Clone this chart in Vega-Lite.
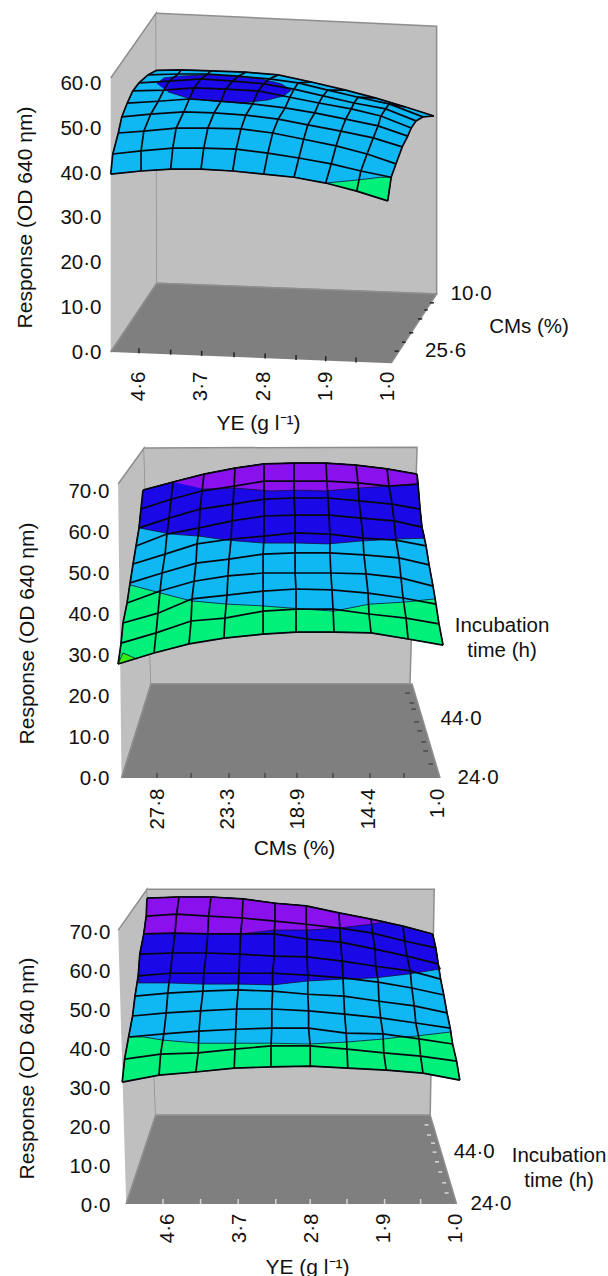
{"$schema":"https://vega.github.io/schema/vega-lite/v6.json","padding":{"left":14,"top":10,"right":0,"bottom":0},"bounds":"flush","spacing":80,"background":"white","config":{"view":{"stroke":null},"font":"Liberation Sans","axis":{"domain":false,"ticks":false,"grid":false,"labelFont":"Liberation Sans","titleFont":"Liberation Sans","labelFontSize":20.5,"titleFontSize":21,"titleFontWeight":"normal","labelColor":"#111","titleColor":"#111","labelOverlap":false,"labelFlush":false}},
"datasets":{
"p1walls":[{"part":"left","YE":5.01,"Response":61.3},{"part":"left","YE":4.35,"Response":75.8},{"part":"left","YE":4.34,"Response":15.4},{"part":"left","YE":5.01,"Response":0},{"part":"back","YE":4.35,"Response":75.8},{"part":"back","YE":0.28,"Response":72.9},{"part":"back","YE":0.28,"Response":13.0},{"part":"back","YE":4.34,"Response":15.4},{"part":"floor","YE":5.01,"Response":0},{"part":"floor","YE":4.34,"Response":15.4},{"part":"floor","YE":0.28,"Response":13.0},{"part":"floor","YE":0.94,"Response":-2.5}],
"p1bands":[{"band":"b","YE":5.01,"Response":39.8},{"band":"b","YE":4.57,"Response":40.5},{"band":"b","YE":4.14,"Response":40.9},{"band":"b","YE":3.70,"Response":40.9},{"band":"b","YE":3.24,"Response":40.5},{"band":"b","YE":2.79,"Response":39.8},{"band":"b","YE":2.35,"Response":39.1},{"band":"b","YE":1.89,"Response":37.8},{"band":"b","YE":1.44,"Response":36.0},{"band":"b","YE":0.99,"Response":33.8},{"band":"b","YE":0.94,"Response":39.1},{"band":"b","YE":0.87,"Response":42.1},{"band":"b","YE":0.78,"Response":45.9},{"band":"b","YE":0.70,"Response":48.3},{"band":"b","YE":0.65,"Response":50.1},{"band":"b","YE":0.58,"Response":51.7},{"band":"b","YE":0.48,"Response":52.6},{"band":"b","YE":0.32,"Response":52.8},{"band":"b","YE":0.73,"Response":54.8},{"band":"b","YE":1.16,"Response":56.8},{"band":"b","YE":1.60,"Response":58.6},{"band":"b","YE":2.10,"Response":60.4},{"band":"b","YE":2.58,"Response":62.0},{"band":"b","YE":3.05,"Response":62.6},{"band":"b","YE":3.56,"Response":62.9},{"band":"b","YE":3.99,"Response":63.1},{"band":"b","YE":4.35,"Response":63.0},{"band":"b","YE":4.47,"Response":62.0},{"band":"b","YE":4.60,"Response":60.2},{"band":"b","YE":4.69,"Response":58.4},{"band":"b","YE":4.77,"Response":55.7},{"band":"b","YE":4.85,"Response":52.6},{"band":"b","YE":4.90,"Response":49.0},{"band":"b","YE":4.98,"Response":44.3},
{"band":"c","YE":4.34,"Response":60.0},{"band":"c","YE":4.24,"Response":61.3},{"band":"c","YE":4.03,"Response":61.7},{"band":"c","YE":3.60,"Response":62.0},{"band":"c","YE":3.22,"Response":61.7},{"band":"c","YE":2.83,"Response":61.1},{"band":"c","YE":2.54,"Response":60.0},{"band":"c","YE":2.39,"Response":58.6},{"band":"c","YE":2.50,"Response":57.3},{"band":"c","YE":2.73,"Response":56.4},{"band":"c","YE":3.12,"Response":55.7},{"band":"c","YE":3.51,"Response":56.1},{"band":"c","YE":3.89,"Response":56.8},{"band":"c","YE":4.18,"Response":58.2},
{"band":"a","YE":1.89,"Response":37.8},{"band":"a","YE":1.42,"Response":38.5},{"band":"a","YE":1.09,"Response":39.1},{"band":"a","YE":0.94,"Response":39.1},{"band":"a","YE":0.99,"Response":33.8},{"band":"a","YE":1.44,"Response":36.0}],
"p1grid":[{"r":0,"c":0,"YE":5.01,"Response":39.8},{"r":0,"c":1,"YE":4.57,"Response":40.5},{"r":0,"c":2,"YE":4.14,"Response":40.9},{"r":0,"c":3,"YE":3.70,"Response":40.9},{"r":0,"c":4,"YE":3.24,"Response":40.5},{"r":0,"c":5,"YE":2.79,"Response":39.8},{"r":0,"c":6,"YE":2.35,"Response":39.1},{"r":0,"c":7,"YE":1.89,"Response":37.8},{"r":0,"c":8,"YE":1.44,"Response":36.0},{"r":0,"c":9,"YE":0.99,"Response":33.8},
{"r":1,"c":0,"YE":4.98,"Response":44.3},{"r":1,"c":1,"YE":4.57,"Response":45.0},{"r":1,"c":2,"YE":4.11,"Response":45.6},{"r":1,"c":3,"YE":3.66,"Response":45.6},{"r":1,"c":4,"YE":3.19,"Response":45.4},{"r":1,"c":5,"YE":2.73,"Response":44.5},{"r":1,"c":6,"YE":2.28,"Response":43.4},{"r":1,"c":7,"YE":1.81,"Response":42.1},{"r":1,"c":8,"YE":1.38,"Response":40.5},{"r":1,"c":9,"YE":0.94,"Response":39.1},
{"r":2,"c":0,"YE":4.90,"Response":49.0},{"r":2,"c":1,"YE":4.53,"Response":49.4},{"r":2,"c":2,"YE":4.06,"Response":50.1},{"r":2,"c":3,"YE":3.60,"Response":50.1},{"r":2,"c":4,"YE":3.12,"Response":49.9},{"r":2,"c":5,"YE":2.66,"Response":49.0},{"r":2,"c":6,"YE":2.21,"Response":47.6},{"r":2,"c":7,"YE":1.74,"Response":46.1},{"r":2,"c":8,"YE":1.29,"Response":44.3},{"r":2,"c":9,"YE":0.87,"Response":42.1},
{"r":3,"c":0,"YE":4.85,"Response":52.6},{"r":3,"c":1,"YE":4.43,"Response":53.2},{"r":3,"c":2,"YE":3.95,"Response":53.7},{"r":3,"c":3,"YE":3.51,"Response":53.5},{"r":3,"c":4,"YE":3.05,"Response":53.0},{"r":3,"c":5,"YE":2.58,"Response":52.1},{"r":3,"c":6,"YE":2.15,"Response":50.8},{"r":3,"c":7,"YE":1.67,"Response":49.4},{"r":3,"c":8,"YE":1.20,"Response":47.9},{"r":3,"c":9,"YE":0.78,"Response":45.9},
{"r":4,"c":0,"YE":4.77,"Response":55.7},{"r":4,"c":1,"YE":4.32,"Response":56.1},{"r":4,"c":2,"YE":3.87,"Response":56.6},{"r":4,"c":3,"YE":3.41,"Response":56.1},{"r":4,"c":4,"YE":2.95,"Response":55.5},{"r":4,"c":5,"YE":2.48,"Response":54.6},{"r":4,"c":6,"YE":2.05,"Response":53.5},{"r":4,"c":7,"YE":1.60,"Response":52.1},{"r":4,"c":8,"YE":1.13,"Response":50.6},{"r":4,"c":9,"YE":0.70,"Response":48.3},
{"r":5,"c":0,"YE":4.69,"Response":58.4},{"r":5,"c":1,"YE":4.24,"Response":58.6},{"r":5,"c":2,"YE":3.80,"Response":59.1},{"r":5,"c":3,"YE":3.34,"Response":58.8},{"r":5,"c":4,"YE":2.87,"Response":58.4},{"r":5,"c":5,"YE":2.41,"Response":57.0},{"r":5,"c":6,"YE":1.99,"Response":55.7},{"r":5,"c":7,"YE":1.52,"Response":54.4},{"r":5,"c":8,"YE":1.09,"Response":52.8},{"r":5,"c":9,"YE":0.65,"Response":50.1},
{"r":6,"c":0,"YE":4.60,"Response":60.2},{"r":6,"c":1,"YE":4.16,"Response":60.6},{"r":6,"c":2,"YE":3.70,"Response":61.1},{"r":6,"c":3,"YE":3.24,"Response":60.6},{"r":6,"c":4,"YE":2.79,"Response":60.0},{"r":6,"c":5,"YE":2.35,"Response":58.8},{"r":6,"c":6,"YE":1.93,"Response":57.3},{"r":6,"c":7,"YE":1.48,"Response":55.7},{"r":6,"c":8,"YE":1.02,"Response":54.4},{"r":6,"c":9,"YE":0.58,"Response":51.7},
{"r":7,"c":0,"YE":4.47,"Response":62.0},{"r":7,"c":1,"YE":4.03,"Response":62.2},{"r":7,"c":2,"YE":3.60,"Response":62.2},{"r":7,"c":3,"YE":3.16,"Response":61.7},{"r":7,"c":4,"YE":2.71,"Response":61.1},{"r":7,"c":5,"YE":2.29,"Response":60.2},{"r":7,"c":6,"YE":1.86,"Response":58.6},{"r":7,"c":7,"YE":1.42,"Response":57.0},{"r":7,"c":8,"YE":0.97,"Response":55.5},{"r":7,"c":9,"YE":0.48,"Response":52.6},
{"r":8,"c":0,"YE":4.35,"Response":63.0},{"r":8,"c":1,"YE":3.99,"Response":63.1},{"r":8,"c":2,"YE":3.56,"Response":62.9},{"r":8,"c":3,"YE":3.05,"Response":62.6},{"r":8,"c":4,"YE":2.58,"Response":62.0},{"r":8,"c":5,"YE":2.10,"Response":60.4},{"r":8,"c":6,"YE":1.60,"Response":58.6},{"r":8,"c":7,"YE":1.16,"Response":56.8},{"r":8,"c":8,"YE":0.73,"Response":54.8},{"r":8,"c":9,"YE":0.32,"Response":52.8}],
"p1ticks":[{"YE":4.60,"YE2":4.60,"Response":-0.27,"Response2":0.85},{"YE":4.14,"YE2":4.14,"Response":-0.58,"Response2":0.54},{"YE":3.69,"YE2":3.69,"Response":-0.87,"Response2":0.25},{"YE":3.22,"YE2":3.22,"Response":-1.18,"Response2":-0.06},{"YE":2.77,"YE2":2.77,"Response":-1.48,"Response2":-0.36},{"YE":2.32,"YE2":2.32,"Response":-1.77,"Response2":-0.65},{"YE":1.89,"YE2":1.89,"Response":-2.06,"Response2":-0.94},{"YE":1.45,"YE2":1.45,"Response":-2.35,"Response2":-1.23},{"YE":0.89,"YE2":0.83,"Response":0.2,"Response2":0.2},{"YE":0.78,"YE2":0.73,"Response":2.2,"Response2":2.2},{"YE":0.68,"YE2":0.62,"Response":4.3,"Response2":4.3},{"YE":0.55,"YE2":0.49,"Response":7.4,"Response2":7.4},{"YE":0.46,"YE2":0.41,"Response":9.4,"Response2":9.4},{"YE":0.38,"YE2":0.32,"Response":11.0,"Response2":11.0}],
"p1text":[{"label":"10·0","YE":-0.22,"Response":13.0},{"label":"25·6","YE":0.15,"Response":0.2},{"label":"CMs (%)","YE":-1.06,"Response":5.6}],
"p2walls":[{"part":"left","CMs":30.27,"Response":71.7},{"part":"left","CMs":28.62,"Response":80.5},{"part":"left","CMs":28.18,"Response":22.9},{"part":"left","CMs":30.05,"Response":0},{"part":"back","CMs":28.62,"Response":80.5},{"part":"back","CMs":11.30,"Response":80.7},{"part":"back","CMs":11.75,"Response":22.9},{"part":"back","CMs":28.18,"Response":22.9},{"part":"floor","CMs":30.05,"Response":0},{"part":"floor","CMs":28.18,"Response":22.9},{"part":"floor","CMs":11.62,"Response":22.9},{"part":"floor","CMs":9.84,"Response":0}],
"p2bands":[{"band":"a","CMs":28.69,"Response":70.2},{"band":"a","CMs":26.78,"Response":72.2},{"band":"a","CMs":24.82,"Response":74.1},{"band":"a","CMs":22.85,"Response":75.6},{"band":"a","CMs":21.01,"Response":76.6},{"band":"a","CMs":19.11,"Response":76.8},{"band":"a","CMs":17.08,"Response":76.8},{"band":"a","CMs":15.17,"Response":76.3},{"band":"a","CMs":13.21,"Response":75.4},{"band":"a","CMs":11.30,"Response":74.1},{"band":"a","CMs":11.24,"Response":71.7},{"band":"a","CMs":11.11,"Response":65.6},{"band":"a","CMs":10.99,"Response":61.2},{"band":"a","CMs":10.73,"Response":56.6},{"band":"a","CMs":10.54,"Response":52.0},{"band":"a","CMs":10.29,"Response":46.8},{"band":"a","CMs":10.10,"Response":42.4},{"band":"a","CMs":9.91,"Response":37.6},{"band":"a","CMs":9.65,"Response":32.4},{"band":"a","CMs":11.87,"Response":33.9},{"band":"a","CMs":14.22,"Response":35.4},{"band":"a","CMs":16.57,"Response":35.6},{"band":"a","CMs":18.98,"Response":35.6},{"band":"a","CMs":21.07,"Response":35.1},{"band":"a","CMs":23.55,"Response":34.1},{"band":"a","CMs":25.77,"Response":32.7},{"band":"a","CMs":27.99,"Response":30.5},{"band":"a","CMs":30.27,"Response":27.8},{"band":"a","CMs":30.08,"Response":32.9},{"band":"a","CMs":29.96,"Response":37.8},{"band":"a","CMs":29.70,"Response":42.7},{"band":"a","CMs":29.51,"Response":47.6},{"band":"a","CMs":29.32,"Response":52.2},{"band":"a","CMs":29.13,"Response":56.6},{"band":"a","CMs":28.94,"Response":61.0},{"band":"a","CMs":28.82,"Response":65.6},
{"band":"b","CMs":28.69,"Response":70.2},{"band":"b","CMs":26.78,"Response":72.2},{"band":"b","CMs":24.82,"Response":74.1},{"band":"b","CMs":22.85,"Response":75.6},{"band":"b","CMs":21.01,"Response":76.6},{"band":"b","CMs":19.11,"Response":76.8},{"band":"b","CMs":17.08,"Response":76.8},{"band":"b","CMs":15.17,"Response":76.3},{"band":"b","CMs":13.21,"Response":75.4},{"band":"b","CMs":11.30,"Response":74.1},{"band":"b","CMs":11.24,"Response":71.7},{"band":"b","CMs":11.11,"Response":65.6},{"band":"b","CMs":10.99,"Response":61.2},{"band":"b","CMs":10.73,"Response":56.6},{"band":"b","CMs":10.54,"Response":52.0},{"band":"b","CMs":10.29,"Response":46.8},{"band":"b","CMs":10.16,"Response":43.7},{"band":"b","CMs":12.13,"Response":42.9},{"band":"b","CMs":14.35,"Response":42.4},{"band":"b","CMs":16.57,"Response":40.7},{"band":"b","CMs":18.47,"Response":41.2},{"band":"b","CMs":21.20,"Response":42.0},{"band":"b","CMs":23.30,"Response":42.4},{"band":"b","CMs":25.64,"Response":43.2},{"band":"b","CMs":27.55,"Response":45.1},{"band":"b","CMs":29.51,"Response":47.1},{"band":"b","CMs":29.32,"Response":52.2},{"band":"b","CMs":29.13,"Response":56.6},{"band":"b","CMs":28.94,"Response":61.0},{"band":"b","CMs":28.82,"Response":65.6},
{"band":"c","CMs":28.69,"Response":70.2},{"band":"c","CMs":26.78,"Response":72.2},{"band":"c","CMs":24.82,"Response":74.1},{"band":"c","CMs":22.85,"Response":75.6},{"band":"c","CMs":21.01,"Response":76.6},{"band":"c","CMs":19.11,"Response":76.8},{"band":"c","CMs":17.08,"Response":76.8},{"band":"c","CMs":15.17,"Response":76.3},{"band":"c","CMs":13.21,"Response":75.4},{"band":"c","CMs":11.30,"Response":74.1},{"band":"c","CMs":11.24,"Response":71.7},{"band":"c","CMs":11.11,"Response":65.6},{"band":"c","CMs":10.99,"Response":61.2},{"band":"c","CMs":10.80,"Response":58.5},{"band":"c","CMs":12.51,"Response":58.3},{"band":"c","CMs":14.86,"Response":57.8},{"band":"c","CMs":16.95,"Response":57.1},{"band":"c","CMs":18.85,"Response":57.3},{"band":"c","CMs":21.01,"Response":57.3},{"band":"c","CMs":23.30,"Response":58.0},{"band":"c","CMs":25.14,"Response":59.0},{"band":"c","CMs":26.91,"Response":59.5},{"band":"c","CMs":28.94,"Response":61.0},{"band":"c","CMs":28.82,"Response":65.6},
{"band":"d","CMs":26.78,"Response":72.2},{"band":"d","CMs":24.82,"Response":74.1},{"band":"d","CMs":22.85,"Response":75.6},{"band":"d","CMs":21.01,"Response":76.6},{"band":"d","CMs":19.11,"Response":76.8},{"band":"d","CMs":17.08,"Response":76.8},{"band":"d","CMs":15.17,"Response":76.3},{"band":"d","CMs":13.21,"Response":75.4},{"band":"d","CMs":11.30,"Response":74.1},{"band":"d","CMs":11.30,"Response":71.7},{"band":"d","CMs":13.14,"Response":71.2},{"band":"d","CMs":15.05,"Response":70.7},{"band":"d","CMs":17.20,"Response":70.0},{"band":"d","CMs":18.85,"Response":70.2},{"band":"d","CMs":20.57,"Response":70.0},{"band":"d","CMs":22.85,"Response":70.7},{"band":"d","CMs":24.82,"Response":70.5},
{"band":"e","CMs":30.27,"Response":27.8},{"band":"e","CMs":29.96,"Response":30.5},{"band":"e","CMs":29.07,"Response":29.0}],
"p2grid":[{"r":0,"c":0,"CMs":28.69,"Response":70.2},{"r":1,"c":0,"CMs":28.82,"Response":65.6},{"r":2,"c":0,"CMs":28.94,"Response":61.0},{"r":3,"c":0,"CMs":29.13,"Response":56.6},{"r":4,"c":0,"CMs":29.32,"Response":52.2},{"r":5,"c":0,"CMs":29.51,"Response":47.6},{"r":6,"c":0,"CMs":29.70,"Response":42.7},{"r":7,"c":0,"CMs":29.96,"Response":37.8},{"r":8,"c":0,"CMs":30.08,"Response":32.9},{"r":9,"c":0,"CMs":30.27,"Response":27.8},
{"r":0,"c":1,"CMs":26.78,"Response":72.2},{"r":1,"c":1,"CMs":26.91,"Response":68.0},{"r":2,"c":1,"CMs":27.04,"Response":63.4},{"r":3,"c":1,"CMs":27.17,"Response":59.5},{"r":4,"c":1,"CMs":27.29,"Response":54.6},{"r":5,"c":1,"CMs":27.48,"Response":50.0},{"r":6,"c":1,"CMs":27.61,"Response":45.6},{"r":7,"c":1,"CMs":27.74,"Response":40.2},{"r":8,"c":1,"CMs":27.86,"Response":35.4},{"r":9,"c":1,"CMs":27.99,"Response":30.5},
{"r":0,"c":2,"CMs":24.82,"Response":74.1},{"r":1,"c":2,"CMs":24.94,"Response":70.0},{"r":2,"c":2,"CMs":25.07,"Response":65.6},{"r":3,"c":2,"CMs":25.13,"Response":61.0},{"r":4,"c":2,"CMs":25.26,"Response":57.1},{"r":5,"c":2,"CMs":25.33,"Response":52.4},{"r":6,"c":2,"CMs":25.45,"Response":48.0},{"r":7,"c":2,"CMs":25.58,"Response":43.7},{"r":8,"c":2,"CMs":25.64,"Response":38.3},{"r":9,"c":2,"CMs":25.77,"Response":32.7},
{"r":0,"c":3,"CMs":22.85,"Response":75.6},{"r":1,"c":3,"CMs":22.91,"Response":71.2},{"r":2,"c":3,"CMs":22.98,"Response":66.8},{"r":3,"c":3,"CMs":23.04,"Response":62.7},{"r":4,"c":3,"CMs":23.10,"Response":58.3},{"r":5,"c":3,"CMs":23.23,"Response":53.4},{"r":6,"c":3,"CMs":23.30,"Response":49.3},{"r":7,"c":3,"CMs":23.36,"Response":44.6},{"r":8,"c":3,"CMs":23.49,"Response":39.0},{"r":9,"c":3,"CMs":23.55,"Response":34.1},
{"r":0,"c":4,"CMs":21.01,"Response":76.6},{"r":1,"c":4,"CMs":21.01,"Response":72.4},{"r":2,"c":4,"CMs":21.01,"Response":68.0},{"r":3,"c":4,"CMs":21.01,"Response":63.9},{"r":4,"c":4,"CMs":21.01,"Response":59.0},{"r":5,"c":4,"CMs":21.07,"Response":54.6},{"r":6,"c":4,"CMs":21.07,"Response":50.0},{"r":7,"c":4,"CMs":21.07,"Response":45.6},{"r":8,"c":4,"CMs":21.07,"Response":40.7},{"r":9,"c":4,"CMs":21.07,"Response":35.1},
{"r":0,"c":5,"CMs":19.11,"Response":76.8},{"r":1,"c":5,"CMs":19.11,"Response":72.4},{"r":2,"c":5,"CMs":19.11,"Response":68.3},{"r":3,"c":5,"CMs":19.04,"Response":64.1},{"r":4,"c":5,"CMs":19.04,"Response":59.8},{"r":5,"c":5,"CMs":19.04,"Response":54.9},{"r":6,"c":5,"CMs":19.04,"Response":50.0},{"r":7,"c":5,"CMs":18.98,"Response":46.1},{"r":8,"c":5,"CMs":18.98,"Response":41.2},{"r":9,"c":5,"CMs":18.98,"Response":35.6},
{"r":0,"c":6,"CMs":17.08,"Response":76.8},{"r":1,"c":6,"CMs":17.02,"Response":72.4},{"r":2,"c":6,"CMs":16.95,"Response":68.3},{"r":3,"c":6,"CMs":16.89,"Response":64.1},{"r":4,"c":6,"CMs":16.83,"Response":59.5},{"r":5,"c":6,"CMs":16.83,"Response":54.9},{"r":6,"c":6,"CMs":16.77,"Response":50.0},{"r":7,"c":6,"CMs":16.70,"Response":45.9},{"r":8,"c":6,"CMs":16.63,"Response":41.2},{"r":9,"c":6,"CMs":16.57,"Response":35.6},
{"r":0,"c":7,"CMs":15.17,"Response":76.3},{"r":1,"c":7,"CMs":15.05,"Response":72.0},{"r":2,"c":7,"CMs":14.98,"Response":67.6},{"r":3,"c":7,"CMs":14.86,"Response":63.4},{"r":4,"c":7,"CMs":14.73,"Response":58.5},{"r":5,"c":7,"CMs":14.67,"Response":54.4},{"r":6,"c":7,"CMs":14.54,"Response":49.8},{"r":7,"c":7,"CMs":14.41,"Response":45.1},{"r":8,"c":7,"CMs":14.35,"Response":40.0},{"r":9,"c":7,"CMs":14.22,"Response":35.4},
{"r":0,"c":8,"CMs":13.21,"Response":75.4},{"r":1,"c":8,"CMs":13.08,"Response":71.2},{"r":2,"c":8,"CMs":12.89,"Response":66.8},{"r":3,"c":8,"CMs":12.76,"Response":62.7},{"r":4,"c":8,"CMs":12.64,"Response":58.0},{"r":5,"c":8,"CMs":12.45,"Response":53.7},{"r":6,"c":8,"CMs":12.32,"Response":48.8},{"r":7,"c":8,"CMs":12.19,"Response":43.9},{"r":8,"c":8,"CMs":12.00,"Response":39.0},{"r":9,"c":8,"CMs":11.87,"Response":33.9},
{"r":0,"c":9,"CMs":11.30,"Response":74.1},{"r":1,"c":9,"CMs":11.24,"Response":71.7},{"r":2,"c":9,"CMs":11.11,"Response":65.6},{"r":3,"c":9,"CMs":10.99,"Response":61.2},{"r":4,"c":9,"CMs":10.73,"Response":56.6},{"r":5,"c":9,"CMs":10.54,"Response":52.0},{"r":6,"c":9,"CMs":10.29,"Response":46.8},{"r":7,"c":9,"CMs":10.10,"Response":42.4},{"r":8,"c":9,"CMs":9.91,"Response":37.6},{"r":9,"c":9,"CMs":9.65,"Response":32.4}],
"p2ticks":[{"CMs":27.8,"CMs2":27.8,"Response":0,"Response2":1.2},{"CMs":25.64,"CMs2":25.64,"Response":0,"Response2":1.2},{"CMs":23.23,"CMs2":23.23,"Response":0,"Response2":1.2},{"CMs":20.95,"CMs2":20.95,"Response":0,"Response2":1.2},{"CMs":18.92,"CMs2":18.92,"Response":0,"Response2":1.2},{"CMs":16.63,"CMs2":16.63,"Response":0,"Response2":1.2},{"CMs":14.29,"CMs2":14.29,"Response":0,"Response2":1.2},{"CMs":12.13,"CMs2":12.13,"Response":0,"Response2":1.2},{"CMs":11.75,"CMs2":12.05,"Response":20.7,"Response2":20.7},{"CMs":11.49,"CMs2":11.79,"Response":18.3,"Response2":18.3},{"CMs":11.37,"CMs2":11.67,"Response":16.8,"Response2":16.8},{"CMs":11.18,"CMs2":11.48,"Response":13.7,"Response2":13.7},{"CMs":10.99,"CMs2":11.29,"Response":11.5,"Response2":11.5},{"CMs":10.73,"CMs2":11.03,"Response":8.8,"Response2":8.8},{"CMs":10.61,"CMs2":10.91,"Response":6.6,"Response2":6.6},{"CMs":10.29,"CMs2":10.59,"Response":3.4,"Response2":3.4}],
"p2text":[{"label":"44·0","CMs":8.51,"Response":14.4},{"label":"24·0","CMs":7.43,"Response":0},{"label":"Incubation","CMs":5.91,"Response":37.1},{"label":"time (h)","CMs":5.91,"Response":31.0}],
"p3walls":[{"part":"left","YE":5.21,"Response":70.7},{"part":"left","YE":4.85,"Response":81.2},{"part":"left","YE":4.74,"Response":23.1},{"part":"left","YE":5.11,"Response":0.26},{"part":"back","YE":4.85,"Response":81.2},{"part":"back","YE":1.26,"Response":81.2},{"part":"back","YE":1.31,"Response":23.1},{"part":"back","YE":4.74,"Response":23.1},{"part":"floor","YE":5.11,"Response":0.26},{"part":"floor","YE":4.74,"Response":23.1},{"part":"floor","YE":1.31,"Response":23.1},{"part":"floor","YE":0.98,"Response":0.26}],
"p3bands":[{"band":"a","YE":4.85,"Response":78.9},{"band":"a","YE":4.45,"Response":79.2},{"band":"a","YE":4.05,"Response":79.2},{"band":"a","YE":3.65,"Response":78.7},{"band":"a","YE":3.25,"Response":77.6},{"band":"a","YE":2.86,"Response":76.9},{"band":"a","YE":2.45,"Response":75.1},{"band":"a","YE":2.05,"Response":73.5},{"band":"a","YE":1.65,"Response":71.7},{"band":"a","YE":1.28,"Response":69.7},{"band":"a","YE":1.24,"Response":66.1},{"band":"a","YE":1.21,"Response":62.0},{"band":"a","YE":1.18,"Response":58.1},{"band":"a","YE":1.14,"Response":54.0},{"band":"a","YE":1.10,"Response":49.4},{"band":"a","YE":1.06,"Response":45.5},{"band":"a","YE":1.03,"Response":41.4},{"band":"a","YE":0.98,"Response":37.0},{"band":"a","YE":0.94,"Response":32.1},{"band":"a","YE":1.40,"Response":33.9},{"band":"a","YE":1.86,"Response":34.7},{"band":"a","YE":2.34,"Response":35.2},{"band":"a","YE":2.81,"Response":35.7},{"band":"a","YE":3.30,"Response":35.5},{"band":"a","YE":3.76,"Response":35.2},{"band":"a","YE":4.24,"Response":34.2},{"band":"a","YE":4.70,"Response":33.4},{"band":"a","YE":5.16,"Response":31.6},{"band":"a","YE":5.13,"Response":37.5},{"band":"a","YE":5.08,"Response":43.2},{"band":"a","YE":5.03,"Response":48.6},{"band":"a","YE":5.00,"Response":53.7},{"band":"a","YE":4.96,"Response":58.9},{"band":"a","YE":4.94,"Response":64.5},{"band":"a","YE":4.89,"Response":69.7},{"band":"a","YE":4.86,"Response":74.3},
{"band":"b","YE":4.85,"Response":78.9},{"band":"b","YE":4.45,"Response":79.2},{"band":"b","YE":4.05,"Response":79.2},{"band":"b","YE":3.65,"Response":78.7},{"band":"b","YE":3.25,"Response":77.6},{"band":"b","YE":2.86,"Response":76.9},{"band":"b","YE":2.45,"Response":75.1},{"band":"b","YE":2.05,"Response":73.5},{"band":"b","YE":1.65,"Response":71.7},{"band":"b","YE":1.28,"Response":69.7},{"band":"b","YE":1.24,"Response":66.1},{"band":"b","YE":1.21,"Response":62.0},{"band":"b","YE":1.18,"Response":58.1},{"band":"b","YE":1.14,"Response":54.0},{"band":"b","YE":1.10,"Response":49.4},{"band":"b","YE":1.06,"Response":45.5},{"band":"b","YE":1.05,"Response":44.5},{"band":"b","YE":1.51,"Response":43.4},{"band":"b","YE":1.68,"Response":43.2},{"band":"b","YE":1.89,"Response":42.7},{"band":"b","YE":2.36,"Response":41.9},{"band":"b","YE":2.83,"Response":41.4},{"band":"b","YE":3.28,"Response":41.6},{"band":"b","YE":3.76,"Response":41.6},{"band":"b","YE":4.20,"Response":41.6},{"band":"b","YE":4.65,"Response":42.4},{"band":"b","YE":4.89,"Response":43.2},{"band":"b","YE":5.08,"Response":43.2},{"band":"b","YE":5.03,"Response":48.6},{"band":"b","YE":5.00,"Response":53.7},{"band":"b","YE":4.96,"Response":58.9},{"band":"b","YE":4.94,"Response":64.5},{"band":"b","YE":4.89,"Response":69.7},{"band":"b","YE":4.86,"Response":74.3},
{"band":"c","YE":4.85,"Response":78.9},{"band":"c","YE":4.45,"Response":79.2},{"band":"c","YE":4.05,"Response":79.2},{"band":"c","YE":3.65,"Response":78.7},{"band":"c","YE":3.25,"Response":77.6},{"band":"c","YE":2.86,"Response":76.9},{"band":"c","YE":2.45,"Response":75.1},{"band":"c","YE":2.05,"Response":73.5},{"band":"c","YE":1.65,"Response":71.7},{"band":"c","YE":1.28,"Response":69.7},{"band":"c","YE":1.24,"Response":66.1},{"band":"c","YE":1.21,"Response":62.0},{"band":"c","YE":1.18,"Response":60.7},{"band":"c","YE":1.58,"Response":59.4},{"band":"c","YE":2.01,"Response":58.4},{"band":"c","YE":2.40,"Response":58.1},{"band":"c","YE":2.84,"Response":57.6},{"band":"c","YE":3.28,"Response":56.6},{"band":"c","YE":3.71,"Response":56.8},{"band":"c","YE":4.14,"Response":56.8},{"band":"c","YE":4.58,"Response":57.1},{"band":"c","YE":4.96,"Response":57.1},{"band":"c","YE":4.94,"Response":64.5},{"band":"c","YE":4.89,"Response":69.7},{"band":"c","YE":4.86,"Response":74.3},
{"band":"d","YE":4.85,"Response":78.9},{"band":"d","YE":4.45,"Response":79.2},{"band":"d","YE":4.05,"Response":79.2},{"band":"d","YE":3.65,"Response":78.7},{"band":"d","YE":3.25,"Response":77.6},{"band":"d","YE":2.86,"Response":76.9},{"band":"d","YE":2.45,"Response":75.1},{"band":"d","YE":2.05,"Response":73.5},{"band":"d","YE":1.86,"Response":72.8},{"band":"d","YE":2.05,"Response":72.2},{"band":"d","YE":2.46,"Response":71.2},{"band":"d","YE":2.84,"Response":70.7},{"band":"d","YE":3.26,"Response":70.7},{"band":"d","YE":3.68,"Response":69.7},{"band":"d","YE":4.09,"Response":69.7},{"band":"d","YE":4.51,"Response":69.9},{"band":"d","YE":4.89,"Response":69.7},{"band":"d","YE":4.86,"Response":74.3}],
"p3grid":[{"r":0,"c":0,"YE":4.85,"Response":78.9},{"r":1,"c":0,"YE":4.86,"Response":74.3},{"r":2,"c":0,"YE":4.89,"Response":69.7},{"r":3,"c":0,"YE":4.94,"Response":64.5},{"r":4,"c":0,"YE":4.96,"Response":58.9},{"r":5,"c":0,"YE":5.00,"Response":53.7},{"r":6,"c":0,"YE":5.03,"Response":48.6},{"r":7,"c":0,"YE":5.08,"Response":43.2},{"r":8,"c":0,"YE":5.13,"Response":37.5},{"r":9,"c":0,"YE":5.16,"Response":31.6},
{"r":0,"c":1,"YE":4.45,"Response":79.2},{"r":1,"c":1,"YE":4.48,"Response":74.8},{"r":2,"c":1,"YE":4.50,"Response":69.9},{"r":3,"c":1,"YE":4.53,"Response":64.8},{"r":4,"c":1,"YE":4.56,"Response":59.6},{"r":5,"c":1,"YE":4.59,"Response":54.5},{"r":6,"c":1,"YE":4.61,"Response":49.4},{"r":7,"c":1,"YE":4.64,"Response":44.0},{"r":8,"c":1,"YE":4.68,"Response":38.8},{"r":9,"c":1,"YE":4.70,"Response":33.4},
{"r":0,"c":2,"YE":4.05,"Response":79.2},{"r":1,"c":2,"YE":4.08,"Response":74.3},{"r":2,"c":2,"YE":4.09,"Response":69.7},{"r":3,"c":2,"YE":4.11,"Response":64.8},{"r":4,"c":2,"YE":4.14,"Response":59.6},{"r":5,"c":2,"YE":4.15,"Response":55.0},{"r":6,"c":2,"YE":4.18,"Response":49.9},{"r":7,"c":2,"YE":4.20,"Response":44.7},{"r":8,"c":2,"YE":4.21,"Response":39.1},{"r":9,"c":2,"YE":4.24,"Response":34.2},
{"r":0,"c":3,"YE":3.65,"Response":78.7},{"r":1,"c":3,"YE":3.66,"Response":73.8},{"r":2,"c":3,"YE":3.68,"Response":69.7},{"r":3,"c":3,"YE":3.69,"Response":64.5},{"r":4,"c":3,"YE":3.70,"Response":59.6},{"r":5,"c":3,"YE":3.71,"Response":55.3},{"r":6,"c":3,"YE":3.73,"Response":50.4},{"r":7,"c":3,"YE":3.74,"Response":45.2},{"r":8,"c":3,"YE":3.75,"Response":40.1},{"r":9,"c":3,"YE":3.76,"Response":35.2},
{"r":0,"c":4,"YE":3.25,"Response":77.6},{"r":1,"c":4,"YE":3.25,"Response":73.0},{"r":2,"c":4,"YE":3.26,"Response":69.7},{"r":3,"c":4,"YE":3.26,"Response":64.0},{"r":4,"c":4,"YE":3.28,"Response":59.6},{"r":5,"c":4,"YE":3.28,"Response":55.0},{"r":6,"c":4,"YE":3.29,"Response":50.4},{"r":7,"c":4,"YE":3.29,"Response":45.5},{"r":8,"c":4,"YE":3.30,"Response":40.9},{"r":9,"c":4,"YE":3.30,"Response":35.5},
{"r":0,"c":5,"YE":2.86,"Response":76.9},{"r":1,"c":5,"YE":2.86,"Response":72.2},{"r":2,"c":5,"YE":2.85,"Response":68.4},{"r":3,"c":5,"YE":2.85,"Response":63.8},{"r":4,"c":5,"YE":2.84,"Response":59.1},{"r":5,"c":5,"YE":2.84,"Response":54.2},{"r":6,"c":5,"YE":2.83,"Response":49.9},{"r":7,"c":5,"YE":2.83,"Response":45.5},{"r":8,"c":5,"YE":2.81,"Response":40.9},{"r":9,"c":5,"YE":2.81,"Response":35.7},
{"r":0,"c":6,"YE":2.45,"Response":75.1},{"r":1,"c":6,"YE":2.44,"Response":71.2},{"r":2,"c":6,"YE":2.43,"Response":67.6},{"r":3,"c":6,"YE":2.41,"Response":62.7},{"r":4,"c":6,"YE":2.40,"Response":58.4},{"r":5,"c":6,"YE":2.39,"Response":53.7},{"r":6,"c":6,"YE":2.38,"Response":49.1},{"r":7,"c":6,"YE":2.36,"Response":44.2},{"r":8,"c":6,"YE":2.35,"Response":40.1},{"r":9,"c":6,"YE":2.34,"Response":35.2},
{"r":0,"c":7,"YE":2.05,"Response":73.5},{"r":1,"c":7,"YE":2.03,"Response":69.9},{"r":2,"c":7,"YE":2.00,"Response":65.8},{"r":3,"c":7,"YE":1.99,"Response":61.4},{"r":4,"c":7,"YE":1.96,"Response":57.3},{"r":5,"c":7,"YE":1.95,"Response":52.4},{"r":6,"c":7,"YE":1.93,"Response":48.1},{"r":7,"c":7,"YE":1.90,"Response":44.0},{"r":8,"c":7,"YE":1.89,"Response":39.1},{"r":9,"c":7,"YE":1.86,"Response":34.7},
{"r":0,"c":8,"YE":1.65,"Response":71.7},{"r":1,"c":8,"YE":1.63,"Response":67.9},{"r":2,"c":8,"YE":1.60,"Response":64.0},{"r":3,"c":8,"YE":1.56,"Response":60.2},{"r":4,"c":8,"YE":1.54,"Response":55.8},{"r":5,"c":8,"YE":1.51,"Response":51.2},{"r":6,"c":8,"YE":1.49,"Response":46.8},{"r":7,"c":8,"YE":1.45,"Response":42.7},{"r":8,"c":8,"YE":1.43,"Response":38.3},{"r":9,"c":8,"YE":1.40,"Response":33.9},
{"r":0,"c":9,"YE":1.28,"Response":69.7},{"r":1,"c":9,"YE":1.24,"Response":66.1},{"r":2,"c":9,"YE":1.21,"Response":62.0},{"r":3,"c":9,"YE":1.18,"Response":58.1},{"r":4,"c":9,"YE":1.14,"Response":54.0},{"r":5,"c":9,"YE":1.10,"Response":49.4},{"r":6,"c":9,"YE":1.06,"Response":45.5},{"r":7,"c":9,"YE":1.03,"Response":41.4},{"r":8,"c":9,"YE":0.98,"Response":37.0},{"r":9,"c":9,"YE":0.94,"Response":32.1}],
"p3ticks":[{"YE":4.65,"YE2":4.65,"Response":0.26,"Response2":1.54},{"YE":4.18,"YE2":4.18,"Response":0.26,"Response2":1.54},{"YE":3.71,"YE2":3.71,"Response":0.26,"Response2":1.54},{"YE":3.24,"YE2":3.24,"Response":0.26,"Response2":1.54},{"YE":2.81,"YE2":2.81,"Response":0.26,"Response2":1.54},{"YE":2.35,"YE2":2.35,"Response":0.26,"Response2":1.54},{"YE":1.88,"YE2":1.88,"Response":0.26,"Response2":1.54},{"YE":1.43,"YE2":1.43,"Response":0.26,"Response2":1.54},{"YE":1.33,"YE2":1.38,"Response":20.6,"Response2":20.6},{"YE":1.30,"YE2":1.35,"Response":18.0,"Response2":18.0},{"YE":1.25,"YE2":1.30,"Response":15.9,"Response2":15.9},{"YE":1.23,"YE2":1.28,"Response":13.6,"Response2":13.6},{"YE":1.20,"YE2":1.25,"Response":11.1,"Response2":11.1},{"YE":1.16,"YE2":1.21,"Response":8.5,"Response2":8.5},{"YE":1.11,"YE2":1.16,"Response":5.7,"Response2":5.7},{"YE":1.08,"YE2":1.13,"Response":3.1,"Response2":3.1}],
"p3text":[{"label":"44·0","YE":0.76,"Response":13.6},{"label":"24·0","YE":0.55,"Response":0.26},{"label":"Incubation","YE":-0.3,"Response":12.6},{"label":"time (h)","YE":-0.3,"Response":6.17}]
},
"vconcat":[
{"width":490,"height":352,"resolve":{"scale":{"fill":"independent"}},
"encoding":{"x":{"field":"YE","type":"quantitative","scale":{"domain":[5.006,-2.105],"nice":false,"zero":false},"axis":{"title":"YE (g l⁻¹)","titleX":147,"titleY":60,"titleAlign":"center","titleBaseline":"middle","values":[4.6,3.7,2.8,1.9,1.0],"labelAngle":270,"labelAlign":"right","labelBaseline":"middle","labelPadding":8,"labelExpr":"replace(format(datum.value,'.1f'),'.','·')"}},
"y":{"field":"Response","type":"quantitative","scale":{"domain":[-2.46,76.29],"nice":false,"zero":false},"axis":{"title":"Response (OD 640 ηm)","titleX":-86,"titleY":206,"titleAngle":-90,"titleAlign":"center","titleBaseline":"middle","values":[0,10,20,30,40,50,60],"labelPadding":10,"labelExpr":"replace(format(datum.value,'.1f'),'.','·')"}}},
"layer":[
{"data":{"name":"p1walls"},"mark":{"type":"line","stroke":"#8e8e8e","strokeWidth":1.5},"encoding":{"fill":{"field":"part","type":"nominal","scale":{"domain":["left","back","floor"],"range":["#bfbfbf","#bfbfbf","#7f7f7f"]},"legend":null},"order":{"value":null}}},
{"data":{"name":"p1bands"},"mark":{"type":"line","stroke":"#10103a","strokeWidth":0.8},"encoding":{"fill":{"field":"band","type":"nominal","scale":{"domain":["a","b","c","d","e"],"range":["#00f07a","#0fb8f2","#1a08e6","#8a10ee","#38ee10"]},"legend":null},"order":{"value":null}}},
{"data":{"name":"p1grid"},"mark":{"type":"line","stroke":"#07070f","strokeWidth":1.7},"encoding":{"detail":{"field":"r"},"order":{"field":"c","type":"quantitative"}}},
{"data":{"name":"p1grid"},"mark":{"type":"line","stroke":"#07070f","strokeWidth":1.7},"encoding":{"detail":{"field":"c"},"order":{"field":"r","type":"quantitative"}}},
{"data":{"name":"p1ticks"},"mark":{"type":"rule","stroke":"#222","strokeWidth":1.5},"encoding":{"x2":{"field":"YE2"},"y2":{"field":"Response2"}}},
{"data":{"name":"p1text"},"mark":{"type":"text","fontSize":20.5,"font":"Liberation Sans","align":"center","baseline":"middle","color":"#111"},"encoding":{"text":{"field":"label"}}}
]},
{"width":490,"height":338,"resolve":{"scale":{"fill":"independent"}},
"encoding":{"x":{"field":"CMs","type":"quantitative","scale":{"domain":[30.72,-0.37],"nice":false,"zero":false},"axis":{"title":"CMs (%)","titleX":183,"titleY":67,"titleAlign":"center","titleBaseline":"middle","values":[27.8,23.3,18.9,14.4,10],"labelAngle":270,"labelAlign":"right","labelBaseline":"middle","labelPadding":7,"labelExpr":"datum.value==10?'1·0':replace(format(datum.value,'.1f'),'.','·')"}},
"y":{"field":"Response","type":"quantitative","scale":{"domain":[-0.73,81.71],"nice":false,"zero":false},"axis":{"title":"Response (OD 640 ηm)","titleX":-84,"titleY":190,"titleAngle":-90,"titleAlign":"center","titleBaseline":"middle","values":[0,10,20,30,40,50,60,70],"labelPadding":2,"labelExpr":"replace(format(datum.value,'.1f'),'.','·')"}}},
"layer":[
{"data":{"name":"p2walls"},"mark":{"type":"line","stroke":"#8e8e8e","strokeWidth":1.5},"encoding":{"fill":{"field":"part","type":"nominal","scale":{"domain":["left","back","floor"],"range":["#bfbfbf","#bfbfbf","#7f7f7f"]},"legend":null},"order":{"value":null}}},
{"data":{"name":"p2bands"},"mark":{"type":"line","stroke":"#10103a","strokeWidth":0.8},"encoding":{"fill":{"field":"band","type":"nominal","scale":{"domain":["a","b","c","d","e"],"range":["#00f07a","#0fb8f2","#1a08e6","#8a10ee","#38ee10"]},"legend":null},"order":{"value":null}}},
{"data":{"name":"p2grid"},"mark":{"type":"line","stroke":"#07070f","strokeWidth":1.7},"encoding":{"detail":{"field":"r"},"order":{"field":"c","type":"quantitative"}}},
{"data":{"name":"p2grid"},"mark":{"type":"line","stroke":"#07070f","strokeWidth":1.7},"encoding":{"detail":{"field":"c"},"order":{"field":"r","type":"quantitative"}}},
{"data":{"name":"p2ticks"},"mark":{"type":"rule","stroke":"#4a4a4a","strokeWidth":1.5},"encoding":{"x2":{"field":"CMs2"},"y2":{"field":"Response2"}}},
{"data":{"name":"p2text"},"mark":{"type":"text","fontSize":20.5,"font":"Liberation Sans","align":"center","baseline":"middle","color":"#111"},"encoding":{"text":{"field":"label"}}}
]},
{"width":490,"height":346,"resolve":{"scale":{"fill":"independent"}},
"encoding":{"x":{"field":"YE","type":"quantitative","scale":{"domain":[5.3,-0.825],"nice":false,"zero":false},"axis":{"title":"YE (g l⁻¹)","titleX":196,"titleY":60,"titleAlign":"center","titleBaseline":"middle","values":[4.6,3.7,2.8,1.9,1.0],"labelAngle":270,"labelAlign":"right","labelBaseline":"middle","labelPadding":6,"labelExpr":"replace(format(datum.value,'.1f'),'.','·')"}},
"y":{"field":"Response","type":"quantitative","scale":{"domain":[-0.514,88.46],"nice":false,"zero":false},"axis":{"title":"Response (OD 640 ηm)","titleX":-84,"titleY":207,"titleAngle":-90,"titleAlign":"center","titleBaseline":"middle","values":[0,10,20,30,40,50,60,70],"labelPadding":1,"labelExpr":"replace(format(datum.value,'.1f'),'.','·')"}}},
"layer":[
{"data":{"name":"p3walls"},"mark":{"type":"line","stroke":"#8e8e8e","strokeWidth":1.5},"encoding":{"fill":{"field":"part","type":"nominal","scale":{"domain":["left","back","floor"],"range":["#bfbfbf","#bfbfbf","#7f7f7f"]},"legend":null},"order":{"value":null}}},
{"data":{"name":"p3bands"},"mark":{"type":"line","stroke":"#10103a","strokeWidth":0.8},"encoding":{"fill":{"field":"band","type":"nominal","scale":{"domain":["a","b","c","d","e"],"range":["#00f07a","#0fb8f2","#1a08e6","#8a10ee","#38ee10"]},"legend":null},"order":{"value":null}}},
{"data":{"name":"p3grid"},"mark":{"type":"line","stroke":"#07070f","strokeWidth":1.7},"encoding":{"detail":{"field":"r"},"order":{"field":"c","type":"quantitative"}}},
{"data":{"name":"p3grid"},"mark":{"type":"line","stroke":"#07070f","strokeWidth":1.7},"encoding":{"detail":{"field":"c"},"order":{"field":"r","type":"quantitative"}}},
{"data":{"name":"p3ticks"},"mark":{"type":"rule","stroke":"#d8d8d8","strokeWidth":1.5},"encoding":{"x2":{"field":"YE2"},"y2":{"field":"Response2"}}},
{"data":{"name":"p3text"},"mark":{"type":"text","fontSize":20.5,"font":"Liberation Sans","align":"center","baseline":"middle","color":"#111"},"encoding":{"text":{"field":"label"}}}
]}
]}
